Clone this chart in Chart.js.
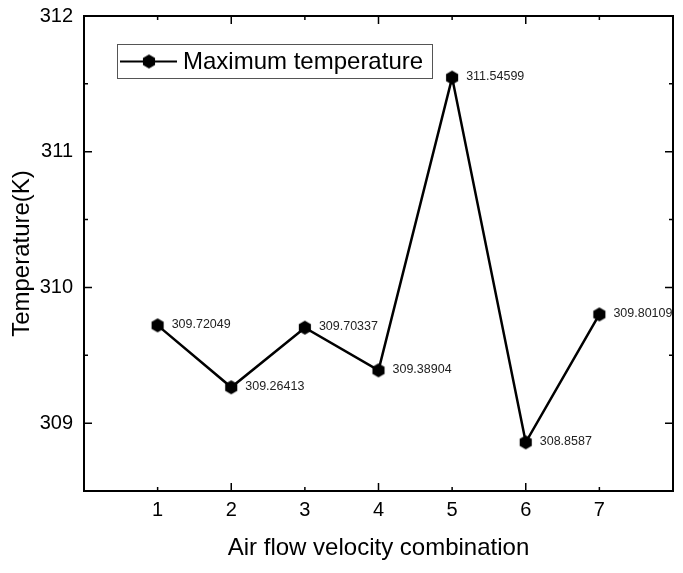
<!DOCTYPE html>
<html>
<head>
<meta charset="utf-8">
<script src="https://cdn.jsdelivr.net/npm/chart.js@4.4.1/dist/chart.umd.min.js"></script>
<style>
    html, body { margin: 0; padding: 0; background: #fff; }
    #wrap { width: 683px; height: 573px; }
</style>
</head>
<body>
<div id="wrap"><canvas id="temp-chart" width="683" height="573"></canvas></div>
<script>
// chart data
const combos = [1, 2, 3, 4, 5, 6, 7];
const maxTemps = [309.72049, 309.26413, 309.70337, 309.38904, 311.54599, 308.8587, 309.80109];
const valueLabels = ['309.72049', '309.26413', '309.70337', '309.38904', '311.54599', '308.8587', '309.80109'];
const yTicks = [309, 310, 311, 312];
const seriesName = 'Maximum temperature';

const FONT = '"Liberation Sans", Arial, sans-serif';

// hexagon marker (pointy top), chart.js has no hexagon style
function makeHexagon(r) {
    const size = r * 2 + 2;
    const c = document.createElement('canvas');
    c.width = size;
    c.height = size;
    const g = c.getContext('2d');
    g.fillStyle = '#000';
    g.beginPath();
    for (let i = 0; i < 6; i++) {
        const a = Math.PI / 2 + i * Math.PI / 3;
        const px = size / 2 + r * Math.cos(a);
        const py = size / 2 + r * Math.sin(a);
        if (i === 0) g.moveTo(px, py); else g.lineTo(px, py);
    }
    g.closePath();
    g.fill();
    return c;
}
const hexMarker = makeHexagon(7);

// frame, inward ticks on all four sides, legend box and value labels
const framePlugin = {
    id: 'frame',
    afterDraw(chart) {
        const ctx = chart.ctx;
        const area = chart.chartArea;
        const xs = chart.scales.x;
        const ys = chart.scales.y;

        ctx.save();
        ctx.strokeStyle = '#000';
        ctx.lineWidth = 2;
        ctx.strokeRect(area.left, area.top, area.right - area.left, area.bottom - area.top);

        ctx.lineWidth = 1.5;
        ctx.beginPath();
        for (let v = 0; v <= 8; v++) {
            const px = xs.getPixelForValue(v);
            const len = v % 2 === 0 ? 8 : 4;
            ctx.moveTo(px, area.bottom);
            ctx.lineTo(px, area.bottom - len);
            ctx.moveTo(px, area.top);
            ctx.lineTo(px, area.top + len);
        }
        for (let v = 308.5; v <= 312; v += 0.5) {
            const py = ys.getPixelForValue(v);
            const len = Number.isInteger(v) ? 8 : 4;
            ctx.moveTo(area.left, py);
            ctx.lineTo(area.left + len, py);
            ctx.moveTo(area.right, py);
            ctx.lineTo(area.right - len, py);
        }
        ctx.stroke();

        // value labels beside each point
        ctx.fillStyle = '#222';
        ctx.font = '12.5px ' + FONT;
        ctx.textAlign = 'left';
        ctx.textBaseline = 'middle';
        const meta = chart.getDatasetMeta(0);
        meta.data.forEach((pt, i) => {
            ctx.fillText(valueLabels[i], pt.x + 14, pt.y - 1);
        });

        // legend box
        ctx.fillStyle = '#fff';
        ctx.fillRect(117, 44, 315, 34);
        ctx.strokeStyle = '#555';
        ctx.lineWidth = 1;
        ctx.strokeRect(117.5, 44.5, 315, 34);
        ctx.strokeStyle = '#000';
        ctx.lineWidth = 2;
        ctx.beginPath();
        ctx.moveTo(120, 61.5);
        ctx.lineTo(177, 61.5);
        ctx.stroke();
        ctx.drawImage(hexMarker, 149 - hexMarker.width / 2, 61.5 - hexMarker.height / 2);
        ctx.fillStyle = '#000';
        ctx.font = '24px ' + FONT;
        ctx.fillText(seriesName, 183, 62);
        ctx.restore();
    }
};

const ctx = document.getElementById('temp-chart').getContext('2d');
new Chart(ctx, {
    type: 'line',
    data: {
        datasets: [{
            label: seriesName,
            data: combos.map((c, i) => ({ x: c, y: maxTemps[i] })),
            borderColor: '#000',
            borderWidth: 2.5,
            pointStyle: hexMarker,
            pointRadius: 7,
            tension: 0,
            fill: false
        }]
    },
    options: {
        responsive: false,
        animation: false,
        layout: { padding: { left: 0, right: 10, top: 16, bottom: 0 } },
        plugins: {
            legend: { display: false },
            tooltip: { enabled: false }
        },
        scales: {
            x: {
                type: 'linear',
                min: 0,
                max: 8,
                grid: { display: false, drawTicks: false },
                border: { display: false },
                afterBuildTicks: (scale) => {
                    scale.ticks = combos.map(v => ({ value: v }));
                },
                afterFit: (scale) => {
                    scale.height = 82;
                    scale.paddingLeft = 0;
                    scale.paddingRight = 0;
                },
                ticks: {
                    color: '#000',
                    padding: 7,
                    maxRotation: 0,
                    autoSkip: false,
                    font: { family: FONT, size: 20 }
                },
                title: {
                    display: true,
                    text: 'Air flow velocity combination',
                    color: '#000',
                    padding: { top: 0, bottom: 10 },
                    font: { family: FONT, size: 24 }
                }
            },
            y: {
                min: 308.5,
                max: 312,
                grid: { display: false, drawTicks: false },
                border: { display: false },
                afterBuildTicks: (scale) => {
                    scale.ticks = yTicks.map(v => ({ value: v }));
                },
                afterFit: (scale) => {
                    scale.width = 84;
                    scale.paddingTop = 0;
                    scale.paddingBottom = 0;
                },
                ticks: {
                    color: '#000',
                    padding: 11,
                    font: { family: FONT, size: 20 }
                },
                title: {
                    display: true,
                    text: 'Temperature(K)',
                    color: '#000',
                    padding: { top: 8, bottom: 0 },
                    font: { family: FONT, size: 24 }
                }
            }
        }
    },
    plugins: [framePlugin]
});
</script>
</body>
</html>
